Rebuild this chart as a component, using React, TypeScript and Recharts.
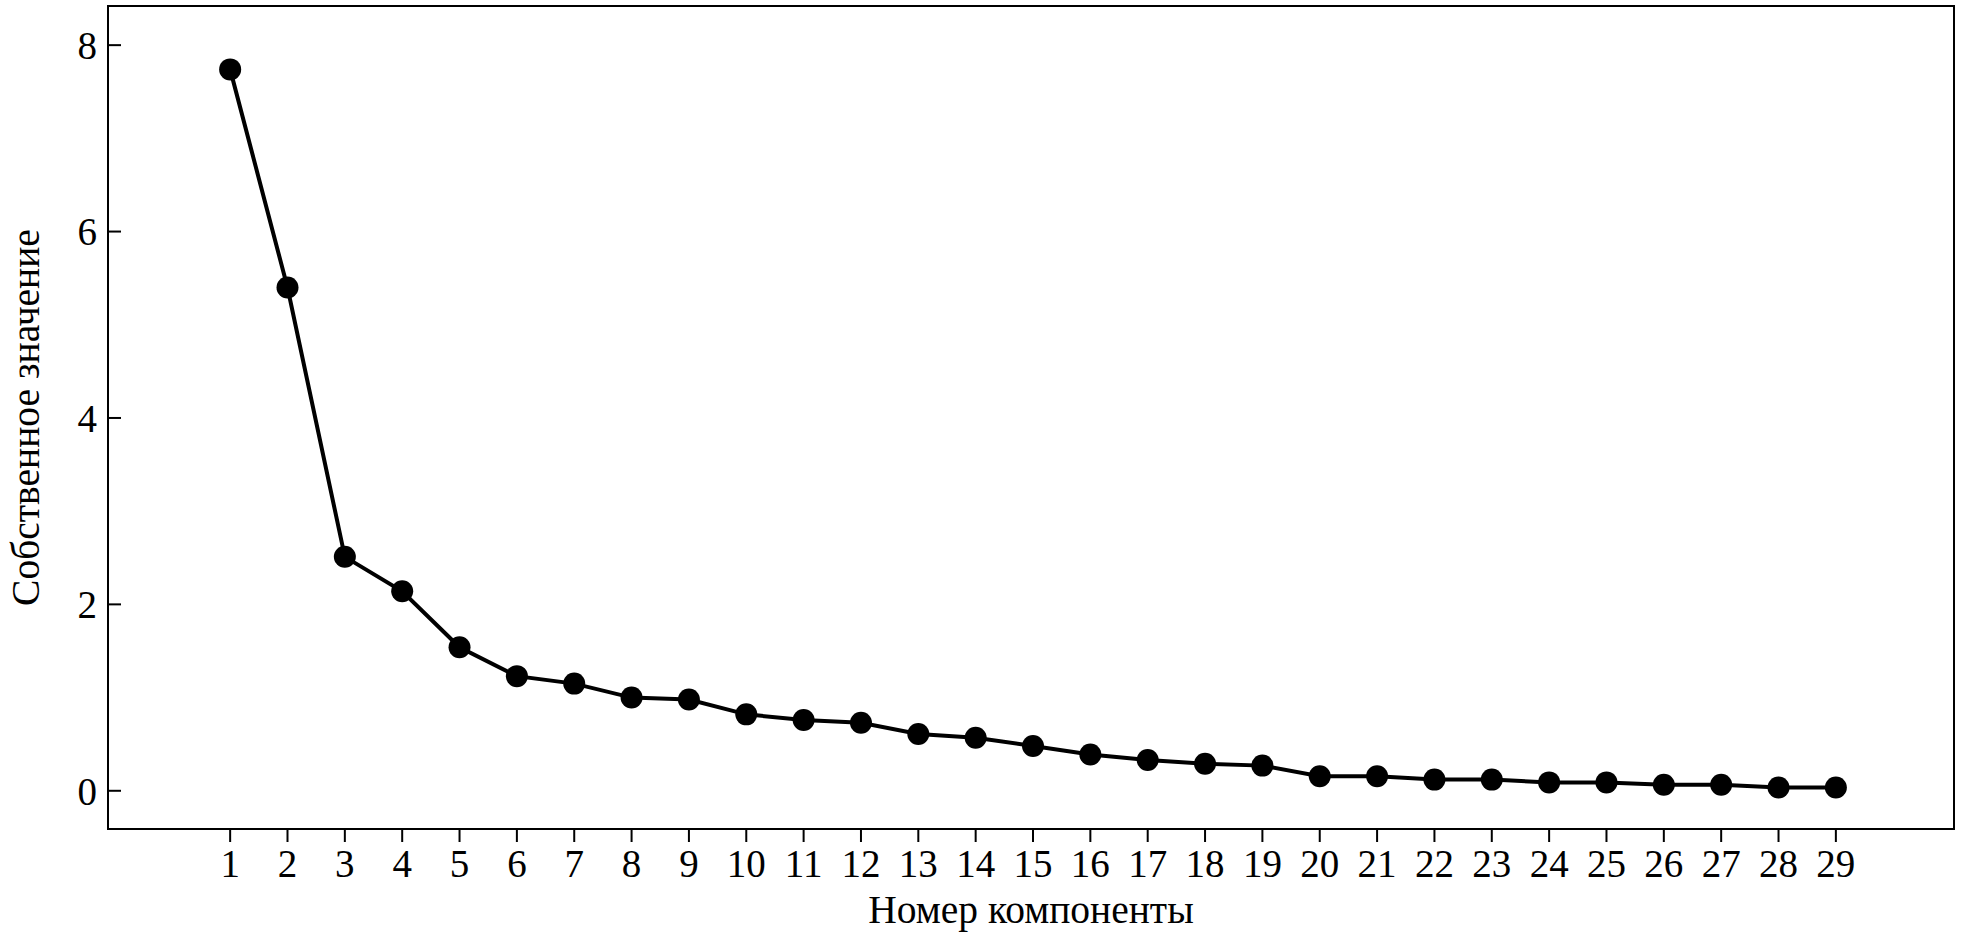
import React from "react";
import {
  LineChart,
  Line,
  XAxis,
  YAxis,
  ReferenceArea,
} from "recharts";

const components = [
  1, 2, 3, 4, 5, 6, 7, 8, 9, 10, 11, 12, 13, 14, 15, 16, 17, 18, 19, 20, 21,
  22, 23, 24, 25, 26, 27, 28, 29,
];
const eigenvalues = [
  7.74, 5.4, 2.51, 2.14, 1.54, 1.23, 1.15, 1.0, 0.98, 0.82, 0.76, 0.73, 0.61,
  0.57, 0.48, 0.39, 0.33, 0.29, 0.27, 0.155, 0.155, 0.12, 0.12, 0.09, 0.09,
  0.065, 0.065, 0.035, 0.035,
];
const yTicks = [0, 2, 4, 6, 8];
const xDomain: [number, number] = [-1.13, 31.06];
const yDomain: [number, number] = [-0.41, 8.42];

const data = components.map((c, i) => ({ n: c, value: eigenvalues[i] }));

const FONT = "'Liberation Serif', 'Times New Roman', serif";
const tickStyle = { fontFamily: FONT, fontSize: 39, fill: "#000" };
const labelStyle = { fontFamily: FONT, fontSize: 39.5, fill: "#000" };

export default function App() {
  return (
    <div style={{ position: "absolute", left: 0, top: 0, fontFamily: FONT }}>
      <LineChart
        width={1967}
        height={948}
        data={data}
        margin={{ top: 6, right: 13, bottom: 0, left: 0 }}
      >
        <XAxis
          dataKey="n"
          type="number"
          domain={xDomain}
          ticks={components}
          allowDataOverflow
          height={119}
          tickSize={13}
          tickMargin={7}
          tick={tickStyle}
          axisLine={false}
          tickLine={{ stroke: "#000", strokeWidth: 2 }}
          interval={0}
          label={{
            value: "Номер компоненты",
            position: "center",
            dy: 20,
            style: labelStyle,
          }}
        />
        <YAxis
          type="number"
          domain={yDomain}
          ticks={yTicks}
          allowDataOverflow
          width={108}
          tickSize={-13}
          tickMargin={24}
          tick={tickStyle}
          axisLine={false}
          tickLine={{ stroke: "#000", strokeWidth: 2 }}
          label={{
            value: "Собственное значение",
            position: "center",
            angle: -90,
            dx: -29,
            style: labelStyle,
          }}
        />
        <ReferenceArea
          x1={xDomain[0]}
          x2={xDomain[1]}
          y1={yDomain[0]}
          y2={yDomain[1]}
          fill="none"
          stroke="#000"
          strokeWidth={2}
          ifOverflow="visible"
        />
        <Line
          type="linear"
          dataKey="value"
          stroke="#000"
          strokeWidth={4}
          dot={{ r: 11, fill: "#000", stroke: "none" }}
          activeDot={false}
          isAnimationActive={false}
        />
      </LineChart>
    </div>
  );
}
